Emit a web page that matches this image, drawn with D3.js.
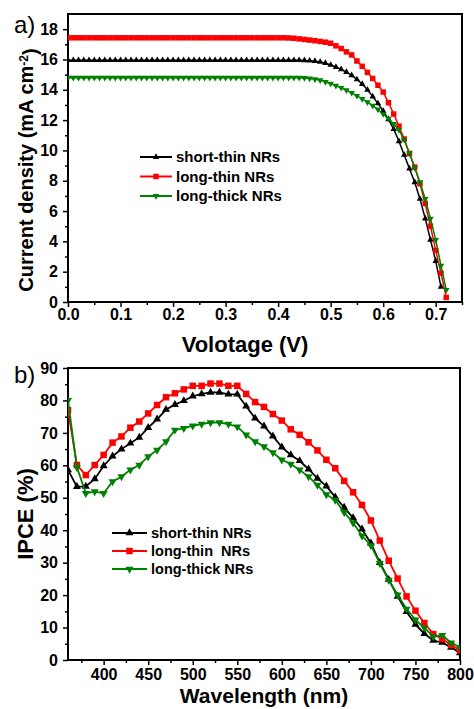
<!DOCTYPE html>
<html>
<head>
<meta charset="utf-8">
<script src="https://cdn.jsdelivr.net/npm/d3@7"></script>
<style>
  html, body { margin: 0; padding: 0; background: #fff; }
  svg text { font-family: "Liberation Sans", Arial, sans-serif; }
</style>
</head>
<body>
<div id="chart"></div>
<script>
// ---- data: panel a) J-V curves --------------------------------------------
const voltage = [
  0.00, 0.01, 0.02, 0.03, 0.04, 0.05, 0.06, 0.07, 0.08, 0.09,
  0.10, 0.11, 0.12, 0.13, 0.14, 0.15, 0.16, 0.17, 0.18, 0.19,
  0.20, 0.21, 0.22, 0.23, 0.24, 0.25, 0.26, 0.27, 0.28, 0.29,
  0.30, 0.31, 0.32, 0.33, 0.34, 0.35, 0.36, 0.37, 0.38, 0.39,
  0.40, 0.41, 0.42, 0.43, 0.44, 0.45, 0.46, 0.47, 0.48, 0.49,
  0.50, 0.51, 0.52, 0.53, 0.54, 0.55, 0.56, 0.57, 0.58, 0.59,
  0.60, 0.61, 0.62, 0.63, 0.64, 0.65, 0.66, 0.67, 0.68, 0.69,
  0.70, 0.71, 0.72
];
const jShortThin = [
  15.95, 15.95, 15.95, 15.95, 15.95, 15.95, 15.95, 15.95, 15.95, 15.95,
  15.95, 15.95, 15.95, 15.95, 15.95, 15.95, 15.95, 15.95, 15.95, 15.95,
  15.95, 15.95, 15.95, 15.95, 15.95, 15.95, 15.95, 15.95, 15.95, 15.95,
  15.95, 15.95, 15.95, 15.95, 15.95, 15.95, 15.95, 15.95, 15.95, 15.95,
  15.95, 15.95, 15.95, 15.95, 15.95, 15.94, 15.92, 15.89, 15.84, 15.76,
  15.64, 15.50, 15.35, 15.17, 14.95, 14.68, 14.38, 14.00, 13.55, 13.10,
  12.60, 12.05, 11.40, 10.60, 9.70, 8.80, 7.90, 6.80, 5.50, 4.10,
  2.70, 1.00
];
const jLongThin = [
  17.43, 17.43, 17.43, 17.43, 17.43, 17.43, 17.43, 17.43, 17.43, 17.43,
  17.43, 17.43, 17.43, 17.43, 17.43, 17.43, 17.43, 17.43, 17.43, 17.43,
  17.43, 17.43, 17.43, 17.43, 17.43, 17.43, 17.43, 17.43, 17.43, 17.43,
  17.43, 17.43, 17.43, 17.43, 17.43, 17.43, 17.43, 17.43, 17.43, 17.43,
  17.43, 17.43, 17.42, 17.40, 17.36, 17.32, 17.28, 17.24, 17.19, 17.14,
  17.07, 16.90, 16.72, 16.50, 16.30, 15.90, 15.55, 15.15, 14.75, 14.30,
  13.85, 13.15, 12.40, 11.60, 10.75, 9.80, 8.90, 7.80, 6.50, 5.00,
  3.40, 1.90, 0.30
];
const jLongThick = [
  14.80, 14.80, 14.80, 14.80, 14.80, 14.80, 14.80, 14.80, 14.80, 14.80,
  14.80, 14.80, 14.80, 14.80, 14.80, 14.80, 14.80, 14.80, 14.80, 14.80,
  14.80, 14.80, 14.80, 14.80, 14.80, 14.80, 14.80, 14.80, 14.80, 14.80,
  14.80, 14.80, 14.80, 14.80, 14.80, 14.80, 14.80, 14.80, 14.80, 14.80,
  14.80, 14.80, 14.80, 14.80, 14.80, 14.78, 14.75, 14.70, 14.63, 14.52,
  14.40, 14.27, 14.13, 13.97, 13.80, 13.60, 13.40, 13.18, 12.95, 12.70,
  12.40, 12.10, 11.75, 11.35, 10.70, 9.80, 8.85, 7.90, 6.80, 5.50,
  4.10, 2.40, 0.80
];

// ---- data: panel b) IPCE spectra -------------------------------------------
const wavelength = [
  360, 370, 380, 390, 400, 410, 420, 430, 440, 450,
  460, 470, 480, 490, 500, 510, 520, 530, 540, 550,
  560, 570, 580, 590, 600, 610, 620, 630, 640, 650,
  660, 670, 680, 690, 700, 710, 720, 730, 740, 750,
  760, 770, 780, 790, 800
];
const ipceShortThin = [
  58.6, 53.4, 53.5, 55.8, 59.8, 62.8, 65.0, 66.8, 68.6, 71.6,
  74.2, 77.2, 78.7, 79.9, 81.3, 82.0, 82.5, 82.5, 81.9, 81.9,
  78.2, 74.5, 72.1, 69.0, 65.6, 63.2, 61.4, 58.8, 56.0, 53.6,
  50.2, 47.0, 43.8, 40.3, 36.0, 30.0, 24.8, 19.6, 14.9, 11.0,
  8.1, 6.0, 5.4, 3.9, 2.2
];
const ipceLongThin = [
  77.0, 60.1, 57.0, 60.1, 63.2, 67.0, 68.9, 71.6, 73.5, 76.0,
  78.6, 81.0, 82.2, 83.4, 84.5, 84.5, 85.2, 85.2, 84.5, 84.5,
  82.0, 79.5, 78.0, 75.8, 73.8, 71.1, 69.4, 67.1, 64.6, 61.7,
  59.1, 55.2, 51.7, 47.8, 43.0, 36.8, 30.6, 25.1, 19.6, 15.2,
  11.4, 8.0, 6.5, 4.6, 3.0
];
const ipceLongThick = [
  80.0, 59.4, 51.4, 51.9, 51.4, 55.0, 56.5, 58.6, 60.1, 62.7,
  64.7, 67.3, 70.9, 71.4, 72.2, 72.7, 73.2, 73.2, 72.7, 71.9,
  69.4, 67.3, 65.8, 63.9, 61.7, 60.4, 58.6, 56.5, 53.9, 51.0,
  49.3, 45.5, 42.3, 38.3, 35.3, 29.8, 24.6, 20.1, 15.7, 12.4,
  9.9, 7.2, 7.6, 5.3, 3.9
];

const seriesNamesA = ["short-thin NRs", "long-thin NRs", "long-thick NRs"];
const seriesNamesB = ["short-thin NRs", "long-thin  NRs", "long-thick NRs"];
const seriesColors = ["#000000", "#ff0000", "#008000"];
const seriesMarkers = ["up", "square", "down"];

const xTicksA = [0.0, 0.1, 0.2, 0.3, 0.4, 0.5, 0.6, 0.7];
const yTicksA = [0, 2, 4, 6, 8, 10, 12, 14, 16, 18];
const xTicksB = [400, 450, 500, 550, 600, 650, 700, 750, 800];
const yTicksB = [0, 10, 20, 30, 40, 50, 60, 70, 80, 90];
// -----------------------------------------------------------------------------

const W = 474, H = 709;
const svg = d3.select("#chart").append("svg")
  .attr("width", W).attr("height", H);

// marker path generator
function markerPath(kind, s) {
  if (kind === "square") return d3.symbol(d3.symbolSquare, s * s)();
  // triangle by width s
  const h = s * 0.87;
  const p = kind === "up"
    ? [[0, -h * 2 / 3], [s / 2, h / 3], [-s / 2, h / 3]]
    : [[0, h * 2 / 3], [s / 2, -h / 3], [-s / 2, -h / 3]];
  return "M" + p.map(q => q.join(",")).join("L") + "Z";
}

function panel(opt) {
  const { left, right, top, bottom } = opt;
  const x = d3.scaleLinear().domain(opt.xDomain).range([left, right]);
  const y = d3.scaleLinear().domain(opt.yDomain).range([bottom, top]);
  const g = svg.append("g");

  const clipId = "clip-" + opt.id;
  g.append("clipPath").attr("id", clipId)
    .append("rect")
    .attr("x", left).attr("y", top - 6)
    .attr("width", right - left).attr("height", bottom - top + 12);

  // minor ticks
  const xMinor = g.append("g").attr("transform", `translate(0,${bottom})`)
    .call(d3.axisBottom(x).tickValues(opt.xMinor).tickSize(3).tickFormat(""));
  const yMinor = g.append("g").attr("transform", `translate(${left},0)`)
    .call(d3.axisLeft(y).tickValues(opt.yMinor).tickSize(3).tickFormat(""));
  [xMinor, yMinor].forEach(a => {
    a.select(".domain").remove();
    a.selectAll("line").attr("stroke-width", 1.5);
  });

  // major ticks
  const xAxis = g.append("g").attr("transform", `translate(0,${bottom})`)
    .call(d3.axisBottom(x).tickValues(opt.xTicks).tickSize(5).tickPadding(opt.xPad)
      .tickFormat(opt.xFormat));
  const yAxis = g.append("g").attr("transform", `translate(${left},0)`)
    .call(d3.axisLeft(y).tickValues(opt.yTicks).tickSize(5).tickPadding(5)
      .tickFormat(d3.format("d")));
  [xAxis, yAxis].forEach(a => {
    a.select(".domain").remove();
    a.selectAll("line").attr("stroke-width", 1.5);
    a.selectAll("text")
      .attr("fill", "#000")
      .style("font-size", opt.tickFont + "px")
      .style("font-weight", "bold");
  });

  // frame
  g.append("rect")
    .attr("x", left).attr("y", top)
    .attr("width", right - left).attr("height", bottom - top)
    .attr("fill", "none").attr("stroke", "#000").attr("stroke-width", 2);

  // series
  const plot = g.append("g").attr("clip-path", `url(#${clipId})`);
  opt.series.forEach((s, i) => {
    const pts = s.values.map((v, k) => [opt.xs[k], v]);
    plot.append("path")
      .datum(pts)
      .attr("fill", "none")
      .attr("stroke", seriesColors[i])
      .attr("stroke-width", opt.lineWidth)
      .attr("d", d3.line().x(d => x(d[0])).y(d => y(d[1])));
    plot.append("g").selectAll("path")
      .data(pts)
      .join("path")
      .attr("transform", d => `translate(${x(d[0])},${y(d[1])})`)
      .attr("d", markerPath(seriesMarkers[i],
        seriesMarkers[i] === "square" ? opt.squareSize : opt.triSize))
      .attr("fill", seriesColors[i]);
  });

  // legend
  const lg = g.append("g");
  opt.legendNames.forEach((name, i) => {
    const yy = opt.legend.y + i * opt.legend.dy;
    lg.append("line")
      .attr("x1", opt.legend.x).attr("x2", opt.legend.x + opt.legend.len)
      .attr("y1", yy).attr("y2", yy)
      .attr("stroke", seriesColors[i]).attr("stroke-width", 2);
    lg.append("path")
      .attr("transform", `translate(${opt.legend.x + opt.legend.len / 2},${yy})`)
      .attr("d", markerPath(seriesMarkers[i],
        seriesMarkers[i] === "square" ? opt.squareSize : opt.triSize))
      .attr("fill", seriesColors[i]);
    lg.append("text")
      .attr("x", opt.legend.x + opt.legend.len + 4)
      .attr("y", yy).attr("dy", "0.35em")
      .style("font-size", opt.legend.font + "px")
      .style("font-weight", "bold")
      .style("white-space", "pre")
      .text(name);
  });

  // axis titles
  g.append("text")
    .attr("x", (left + right) / 2 + opt.xTitleShift).attr("y", opt.xTitleY)
    .attr("text-anchor", "middle")
    .style("font-size", opt.xTitleFont + "px").style("font-weight", "bold")
    .text(opt.xTitle);

  const yt = g.append("text")
    .attr("transform", `translate(33,${opt.yTitleY}) rotate(-90)`)
    .attr("text-anchor", "middle")
    .style("font-size", opt.yTitleFont + "px").style("font-weight", "bold");
  opt.yTitle(yt);

  // panel label
  g.append("text")
    .attr("x", 14).attr("y", opt.labelY)
    .style("font-size", "24px")
    .text(opt.label);
}

panel({
  id: "a", left: 68, right: 462, top: 14, bottom: 302,
  xDomain: [0, 0.75], yDomain: [0, 19],
  xs: voltage,
  series: [{ values: jShortThin }, { values: jLongThin }, { values: jLongThick }],
  xTicks: xTicksA, yTicks: yTicksA,
  xMinor: [0.05, 0.15, 0.25, 0.35, 0.45, 0.55, 0.65, 0.75],
  yMinor: [1, 3, 5, 7, 9, 11, 13, 15, 17],
  xFormat: d3.format(".1f"), xPad: 2, tickFont: 16,
  lineWidth: 1.5, triSize: 6.5, squareSize: 5.5,
  legendNames: seriesNamesA,
  legend: { x: 140, y: 157, dy: 19.5, len: 32, font: 15 },
  xTitle: "Volotage (V)", xTitleY: 352, xTitleShift: -20, xTitleFont: 22,
  yTitleY: 170, yTitleFont: 20,
  yTitle: t => {
    t.append("tspan").text("Current density (mA cm");
    t.append("tspan").attr("dy", "-0.45em").style("font-size", "12px").text("-2");
    t.append("tspan").attr("dy", "0.45em").text(")");
  },
  label: "a)", labelY: 33
});

panel({
  id: "b", left: 68, right: 460, top: 368, bottom: 660,
  xDomain: [360, 800], yDomain: [0, 90],
  xs: wavelength,
  series: [{ values: ipceShortThin }, { values: ipceLongThin }, { values: ipceLongThick }],
  xTicks: xTicksB, yTicks: yTicksB,
  xMinor: [375, 425, 475, 525, 575, 625, 675, 725, 775],
  yMinor: [5, 15, 25, 35, 45, 55, 65, 75, 85],
  xFormat: d3.format("d"), xPad: 4, tickFont: 16,
  lineWidth: 1.8, triSize: 8, squareSize: 6.5,
  legendNames: seriesNamesB,
  legend: { x: 112, y: 533, dy: 18, len: 35, font: 14.5 },
  xTitle: "Wavelength (nm)", xTitleY: 703, xTitleShift: 0, xTitleFont: 21,
  yTitleY: 514, yTitleFont: 22,
  yTitle: t => t.text("IPCE (%)"),
  label: "b)", labelY: 383
});
</script>
</body>
</html>
